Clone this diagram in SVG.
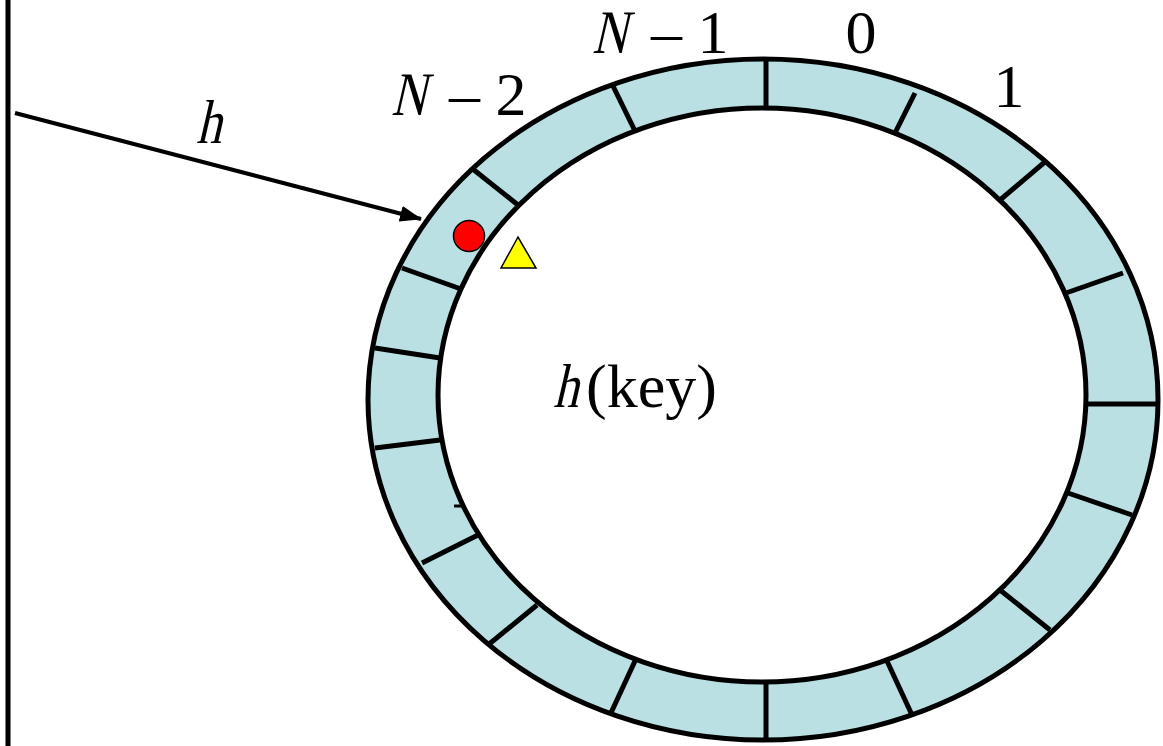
<svg xmlns="http://www.w3.org/2000/svg" width="1163" height="746" viewBox="0 0 1163 746">
<style>
.t{font-family:"Liberation Serif","Times New Roman",serif;font-size:62px;fill:#000}
.d{stroke:#000;stroke-width:5;fill:none}
</style>
<defs>
<marker id="ah" markerWidth="22" markerHeight="16" refX="21" refY="8" orient="auto" markerUnits="userSpaceOnUse">
<path d="M0,0 L22,8 L0,16 z" fill="#000"/>
</marker>
</defs>
<rect width="1163" height="746" fill="#fff"/>
<g id="axis"><line x1="8" y1="0" x2="8" y2="746" stroke="#000" stroke-width="5"/></g>
<g id="ring">
<path d="M368,399.5 a395,340.5 0 1,0 790,0 a395,340.5 0 1,0 -790,0 z M438,395 a324,287 0 1,0 648,0 a324,287 0 1,0 -648,0 z" fill="#bae0e3" fill-rule="evenodd" stroke="#000" stroke-width="5"/>
<g class="d">
<line x1="766" y1="60" x2="766" y2="108"/>
<line x1="915" y1="93" x2="894" y2="135"/>
<line x1="1046" y1="161" x2="1000" y2="200"/>
<line x1="1123" y1="273" x2="1066" y2="293"/>
<line x1="1157" y1="404" x2="1087" y2="404"/>
<line x1="1132" y1="515" x2="1068" y2="493"/>
<line x1="1050" y1="630" x2="1000" y2="590"/>
<line x1="912" y1="715" x2="887" y2="661"/>
<line x1="766" y1="683" x2="766" y2="740"/>
<line x1="635" y1="661" x2="610" y2="715"/>
<line x1="537" y1="605" x2="488" y2="645"/>
<line x1="478" y1="535" x2="422" y2="563"/>
<line x1="440" y1="440" x2="375" y2="448"/>
<line x1="440" y1="358" x2="375" y2="348"/>
<line x1="461" y1="289" x2="402" y2="268"/>
<line x1="518" y1="205" x2="474" y2="170"/>
<line x1="635" y1="131" x2="613" y2="86"/>
</g>
<line x1="454" y1="506" x2="462" y2="506" stroke="#000" stroke-width="3"/>
</g>
<g id="connectors">
<line x1="15" y1="113" x2="421" y2="219" stroke="#000" stroke-width="4" marker-end="url(#ah)"/>
</g>
<g id="markers">
<circle cx="469" cy="236" r="15.5" fill="#ff0000" stroke="#000" stroke-width="1.5"/>
<polygon points="518,237 501,268 536,268" fill="#ffff00" stroke="#000" stroke-width="1.5"/>
</g>
<g id="labels">
<text class="t" transform="translate(196,143) skewX(-13) scale(0.82,1)">h</text>
<text class="t" transform="translate(391,115) skewX(-13) scale(0.78,1)">N</text>
<text class="t" x="449" y="115">– 2</text>
<text class="t" transform="translate(592,53) skewX(-13) scale(0.78,1)">N</text>
<text class="t" x="651" y="53">– 1</text>
<text class="t" x="861" y="53" text-anchor="middle">0</text>
<text class="t" x="1009" y="107" text-anchor="middle">1</text>
<text class="t" transform="translate(553,407) skewX(-13) scale(0.82,1)">h</text>
<text class="t" x="586" y="407">(key)</text>
</g>
</svg>
